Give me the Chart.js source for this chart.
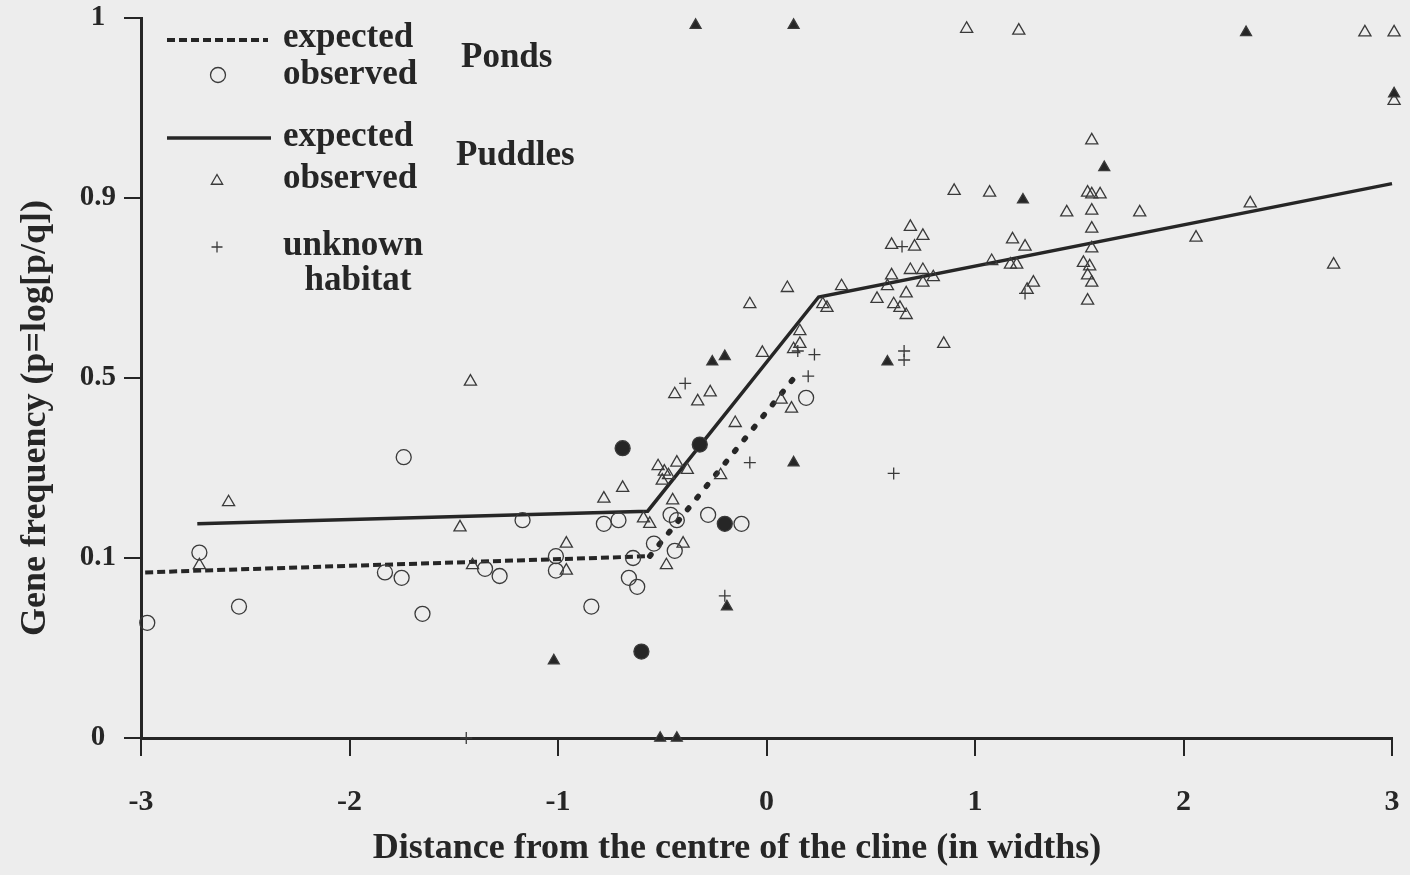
<!DOCTYPE html>
<html>
<head>
<meta charset="utf-8">
<title>Gene frequency across the cline</title>
<script src="https://cdn.jsdelivr.net/npm/chart.js@4.4.1/dist/chart.umd.min.js"></script>
<style>
  html, body { margin: 0; padding: 0; background: #ededed; }
  #wrap { position: relative; width: 1410px; height: 875px; }
</style>
</head>
<body>
<div id="wrap"><canvas id="cline"></canvas></div>
<script>
// y is plotted on the log[p/q] scale; positions 0..4 carry these frequency labels
const yTickLabels = ['0', '0.1', '0.5', '0.9', '1'];
const xTickValues = [-3, -2, -1, 0, 1, 2, 3];

// expected clines: [distance in widths, position on the frequency axis]
const pondsExpected = [[-2.98, 0.92], [-0.56, 1.01], [0.16, 2.04]];
const puddlesExpected = [[-2.73, 1.19], [-0.57, 1.26], [0.25, 2.45], [3.0, 3.08]];

// observed samples
const pondsObserved = [
  [-2.97, 0.64], [-2.72, 1.03], [-2.53, 0.73], [-1.74, 1.56], [-1.83, 0.92],
  [-1.75, 0.89], [-1.65, 0.69], [-1.35, 0.94], [-1.28, 0.90], [-1.17, 1.21],
  [-1.01, 1.01], [-1.01, 0.93], [-0.84, 0.73], [-0.78, 1.19], [-0.71, 1.21],
  [-0.66, 0.89], [-0.62, 0.84], [-0.64, 1.00], [-0.54, 1.08], [-0.46, 1.24],
  [-0.43, 1.21], [-0.44, 1.04], [-0.28, 1.24], [-0.12, 1.19], [0.19, 1.89]
];

const puddlesObserved = [
  [-2.58, 1.31], [-2.72, 0.96], [-1.42, 1.98], [-1.47, 1.17], [-1.41, 0.96],
  [-0.96, 1.08], [-0.96, 0.93], [-0.78, 1.33], [-0.69, 1.39], [-0.59, 1.22],
  [-0.56, 1.19], [-0.52, 1.51], [-0.43, 1.53], [-0.49, 1.48], [-0.47, 1.46],
  [-0.50, 1.43], [-0.38, 1.49], [-0.45, 1.32], [-0.40, 1.08], [-0.48, 0.96],
  [-0.44, 1.91], [-0.33, 1.87], [-0.27, 1.92], [-0.22, 1.46], [-0.15, 1.75],
  [-0.02, 2.14], [-0.08, 2.41], [0.10, 2.50], [0.16, 2.26], [0.16, 2.19],
  [0.13, 2.16], [0.07, 1.88], [0.12, 1.83], [0.27, 2.41], [0.29, 2.39],
  [0.36, 2.51], [0.53, 2.44], [0.58, 2.51], [0.60, 2.57], [0.61, 2.41],
  [0.64, 2.39], [0.67, 2.35], [0.67, 2.47], [0.69, 2.60], [0.75, 2.60],
  [0.75, 2.53], [0.80, 2.56], [0.60, 2.74], [0.71, 2.73], [0.69, 2.84],
  [0.75, 2.79], [0.85, 2.19], [0.90, 3.04], [1.07, 3.03], [0.96, 3.94],
  [1.21, 3.93], [1.18, 2.77], [1.24, 2.73], [1.08, 2.65], [1.17, 2.63],
  [1.20, 2.63], [1.28, 2.53], [1.25, 2.49], [1.44, 2.92], [1.56, 3.32],
  [1.54, 3.03], [1.56, 3.02], [1.60, 3.02], [1.56, 2.93], [1.79, 2.92],
  [1.56, 2.83], [1.56, 2.72], [1.52, 2.64], [1.55, 2.62], [1.54, 2.57],
  [1.56, 2.53], [1.54, 2.43], [2.06, 2.78], [2.32, 2.97], [2.72, 2.63],
  [2.87, 3.92], [3.01, 3.92], [3.01, 3.54]
];

const unknownHabitat = [
  [-1.44, 0.0], [-0.39, 1.97], [0.23, 2.13], [0.20, 2.01], [0.15, 2.15],
  [-0.08, 1.53], [0.61, 1.47], [-0.20, 0.79], [0.65, 2.73], [0.66, 2.15],
  [0.66, 2.10], [1.24, 2.47]
];

const filledTriangles = [
  [-0.34, 3.96], [0.13, 3.96], [2.30, 3.92], [3.01, 3.58], [1.62, 3.17],
  [1.23, 2.99], [0.58, 2.09], [-0.26, 2.09], [-0.20, 2.12], [0.13, 1.53],
  [-1.02, 0.43], [-0.19, 0.73], [-0.51, 0.0], [-0.43, 0.0]
];

const filledCircles = [[-0.69, 1.61], [-0.32, 1.63], [-0.20, 1.19], [-0.60, 0.48]];

const INK = '#262626';
const MARK = '#3a3a3a';
const SERIF = '"Liberation Serif", "Times New Roman", serif';

const toXY = pts => pts.map(([x, y]) => ({ x, y }));

function marks(label, data, style, radius, filled) {
  return {
    label,
    data: toXY(data),
    pointStyle: style,
    pointRadius: radius,
    pointHoverRadius: radius,
    pointBorderColor: MARK,
    pointBackgroundColor: filled ? INK : 'rgba(0,0,0,0)',
    pointBorderWidth: 1.3,
    showLine: false,
    clip: false
  };
}

const pondsDash = [8, 4];
const pondsDots = [2, 13];

// draws the key and the axis titles
const figureText = {
  id: 'figureText',
  afterDraw(chart) {
    const ctx = chart.ctx;
    const h = Chart.helpers;
    ctx.save();
    ctx.fillStyle = INK;
    ctx.strokeStyle = INK;

    // line samples
    ctx.lineWidth = 4;
    ctx.setLineDash(pondsDash);
    ctx.beginPath();
    ctx.moveTo(167, 40);
    ctx.lineTo(268, 40);
    ctx.stroke();
    ctx.setLineDash([]);
    ctx.lineWidth = 3.5;
    ctx.beginPath();
    ctx.moveTo(167, 138);
    ctx.lineTo(271, 138);
    ctx.stroke();

    // marker samples
    ctx.strokeStyle = MARK;
    ctx.fillStyle = 'rgba(0,0,0,0)';
    ctx.lineWidth = 1.3;
    h.drawPoint(ctx, { pointStyle: 'circle', radius: 7.5, borderWidth: 1.3, rotation: 0 }, 218, 75);
    h.drawPoint(ctx, { pointStyle: 'triangle', radius: 6.5, borderWidth: 1.3, rotation: 0 }, 217, 181);
    h.drawPoint(ctx, { pointStyle: 'cross', radius: 5.5, borderWidth: 1.3, rotation: 0 }, 217, 247);

    // key text
    ctx.fillStyle = INK;
    ctx.font = 'bold 35px ' + SERIF;
    ctx.textBaseline = 'middle';
    ctx.textAlign = 'left';
    ctx.fillText('expected', 283, 38);
    ctx.fillText('observed', 283, 75);
    ctx.fillText('Ponds', 461, 58);
    ctx.fillText('expected', 283, 137);
    ctx.fillText('observed', 283, 179);
    ctx.fillText('Puddles', 456, 156);
    ctx.fillText('unknown', 283, 246);
    ctx.textAlign = 'center';
    ctx.fillText('habitat', 358, 281);

    // axis titles
    ctx.font = 'bold 36px ' + SERIF;
    ctx.fillText('Distance from the centre of the cline (in widths)', 737, 849);
    ctx.translate(36, 418);
    ctx.rotate(-Math.PI / 2);
    ctx.fillText('Gene frequency (p=log[p/q])', 0, 0);
    ctx.restore();
  }
};

new Chart(document.getElementById('cline'), {
  type: 'scatter',
  data: {
    datasets: [
      marks('filled circles', filledCircles, 'circle', 7.5, true),
      marks('filled triangles', filledTriangles, 'triangle', 6.3, true),
      marks('Ponds observed', pondsObserved, 'circle', 7.5, false),
      marks('Puddles observed', puddlesObserved, 'triangle', 7, false),
      marks('unknown habitat', unknownHabitat, 'cross', 6, false),
      {
        label: 'Puddles expected',
        data: toXY(puddlesExpected),
        showLine: true,
        borderColor: INK,
        borderWidth: 3.5,
        pointRadius: 0,
        tension: 0,
        clip: false
      },
      {
        label: 'Ponds expected',
        data: toXY(pondsExpected),
        showLine: true,
        borderColor: INK,
        borderWidth: 4,
        pointRadius: 0,
        tension: 0,
        clip: false,
        // flat part dashed, rising part dotted
        segment: {
          borderDash: c => c.p0DataIndex === 0 ? pondsDash : pondsDots,
          borderCapStyle: c => c.p0DataIndex === 0 ? 'butt' : 'round',
          borderWidth: c => c.p0DataIndex === 0 ? 4 : 5.5
        }
      }
    ]
  },
  options: {
    responsive: true,
    maintainAspectRatio: false,
    animation: false,
    layout: { padding: { top: 18, right: 18, left: 0, bottom: 0 } },
    plugins: {
      legend: { display: false },
      tooltip: { enabled: false }
    },
    scales: {
      x: {
        type: 'linear',
        min: -3,
        max: 3,
        afterBuildTicks: s => { s.ticks = xTickValues.map(v => ({ value: v })); },
        afterFit: s => {
          s.height = 137;
          s.paddingLeft = 0;
          s.paddingRight = 0;
        },
        ticks: {
          callback: v => String(v),
          color: INK,
          font: { family: SERIF, size: 30, weight: 'bold' },
          padding: 28,
          maxRotation: 0
        },
        grid: { drawOnChartArea: false, tickLength: 18, color: INK, lineWidth: 2 },
        border: { color: INK, width: 3 }
      },
      y: {
        type: 'linear',
        min: 0,
        max: 4,
        afterBuildTicks: s => { s.ticks = yTickLabels.map((_, i) => ({ value: i })); },
        afterFit: s => {
          s.width = 141;
          s.paddingTop = 0;
          s.paddingBottom = 0;
        },
        ticks: {
          callback: v => yTickLabels[v],
          color: INK,
          crossAlign: 'center',
          font: { family: SERIF, size: 29, weight: 'bold' },
          padding: 8
        },
        grid: { drawOnChartArea: false, tickLength: 17, color: INK, lineWidth: 2 },
        border: { color: INK, width: 3 }
      }
    }
  },
  plugins: [figureText]
});
</script>
</body>
</html>
